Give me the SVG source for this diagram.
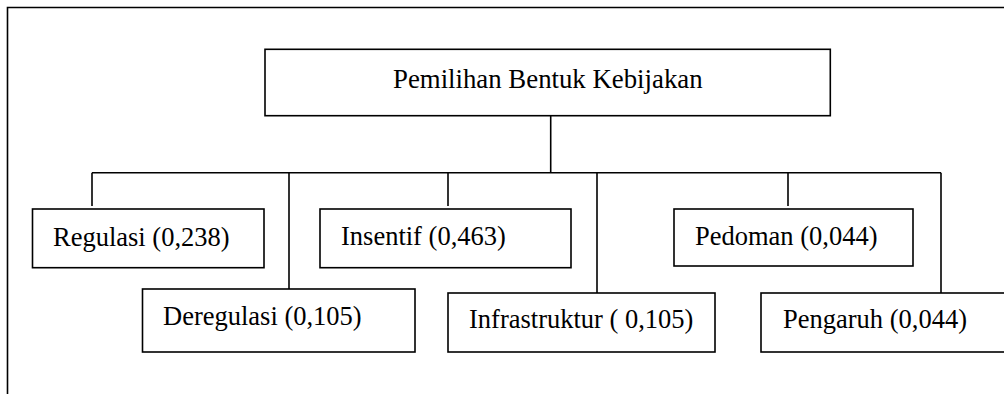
<svg xmlns="http://www.w3.org/2000/svg" width="1004" height="394" viewBox="0 0 1004 394">
<style>
.box{fill:#fff;stroke:#000;stroke-width:1.6}
.ln{fill:none;stroke:#000;stroke-width:1.6}
text{font-family:"Liberation Serif","Times New Roman",serif;font-size:26.5px;fill:#000}
</style>
<rect width="1004" height="394" fill="#fff"/>
<g id="frame">
<path class="ln" d="M7.5,394 V7.5 H1004"/>
</g>
<g id="connectors">
<path class="ln" d="M550.7,115.7 V172.7"/>
<path class="ln" d="M92,172.7 H941"/>
<path class="ln" d="M92,172.7 V206"/>
<path class="ln" d="M289,172.7 V289"/>
<path class="ln" d="M448,172.7 V206"/>
<path class="ln" d="M597,172.7 V293"/>
<path class="ln" d="M788,172.7 V206"/>
<path class="ln" d="M941,172.7 V293"/>
</g>
<g id="root">
<rect class="box" x="265" y="49.3" width="565.3" height="66.4"/>
<text x="393" y="88" style="font-size:26.8px">Pemilihan Bentuk Kebijakan</text>
</g>
<g id="regulasi">
<rect class="box" x="32.5" y="209" width="231.5" height="58.7"/>
<text x="53" y="246">Regulasi (0,238)</text>
</g>
<g id="deregulasi">
<rect class="box" x="142.5" y="289" width="272.5" height="63"/>
<text x="163" y="325">Deregulasi (0,105)</text>
</g>
<g id="insentif">
<rect class="box" x="320" y="209" width="251" height="58.7"/>
<text x="341" y="245">Insentif (0,463)</text>
</g>
<g id="infrastruktur">
<rect class="box" x="448" y="293" width="267" height="59"/>
<text x="469" y="328">Infrastruktur ( 0,105)</text>
</g>
<g id="pedoman">
<rect class="box" x="674" y="209" width="239" height="57"/>
<text x="695" y="245">Pedoman (0,044)</text>
</g>
<g id="pengaruh">
<rect class="box" x="761" y="293" width="260" height="59"/>
<text x="783" y="328">Pengaruh (0,044)</text>
</g>
</svg>
